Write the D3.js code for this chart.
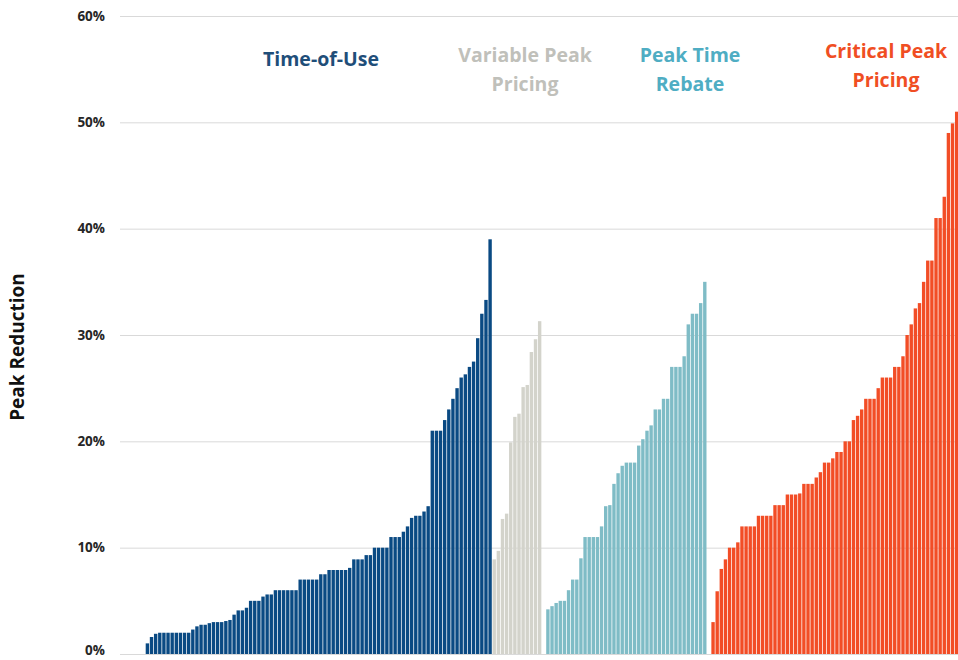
<!DOCTYPE html>
<html>
<head>
<meta charset="utf-8">
<script src="https://cdn.jsdelivr.net/npm/d3@7"></script>
<style>
  html, body { margin: 0; padding: 0; background: #fff; }
  svg { display: block; }
  text { font-family: "Open Sans", "Liberation Sans", sans-serif; }
</style>
</head>
<body>
<svg id="chart" width="958" height="660"></svg>
<script>
// ---- data (peak reduction, %) ----
const touValues = [1.0, 1.6, 1.9, 2.0, 2.0, 2.0, 2.0, 2.0, 2.0, 2.0, 2.0, 2.3, 2.6, 2.75, 2.75, 2.9, 3.0, 3.0, 3.0, 3.1, 3.2,
  3.7, 4.1, 4.1, 4.35, 5.0, 5.0, 5.0, 5.4, 5.6, 5.6, 6.0, 6.0, 6.0, 6.0, 6.0, 6.0,
  7.0, 7.0, 7.0, 7.0, 7.0, 7.5, 7.5, 7.9, 7.9, 7.9, 7.9, 7.9, 8.1, 8.9, 8.9, 8.9, 9.3, 9.3,
  10.0, 10.0, 10.0, 10.0, 11.0, 11.0, 11.0, 11.5, 12.0, 12.8, 13.0, 13.0, 13.4, 13.9,
  21.0, 21.0, 21.0, 22.0, 23.0, 24.0, 25.0, 26.0, 26.3, 27.0, 27.5, 29.7, 32.0, 33.3, 39.0];
const vppValues = [8.9, 9.7, 12.7, 13.2, 19.9, 22.3, 22.6, 25.1, 25.3, 28.4, 29.6, 31.3];
const ptrValues = [4.2, 4.5, 4.8, 5.0, 5.0, 6.0, 7.0, 7.0, 9.0, 11.0, 11.0, 11.0, 11.0, 12.0, 13.9, 14.0,
  16.0, 17.0, 17.7, 18.0, 18.0, 18.0, 19.6, 20.2, 21.0, 21.5, 23.0, 23.0, 24.0, 24.0,
  27.0, 27.0, 27.0, 28.0, 31.0, 32.0, 32.0, 33.0, 35.0];
const cppValues = [3.0, 5.9, 8.0, 8.9, 10.0, 10.0, 10.5, 12.0, 12.0, 12.0, 12.0, 13.0, 13.0, 13.0, 13.0,
  14.0, 14.0, 14.0, 15.0, 15.0, 15.0, 15.1, 16.0, 16.0, 16.0, 16.6, 17.1, 18.0, 18.0, 18.4,
  19.0, 19.0, 20.0, 20.0, 22.0, 22.4, 23.0, 24.0, 24.0, 24.0, 25.0, 26.0, 26.0, 26.0, 27.0, 27.0,
  28.0, 30.0, 31.0, 32.5, 33.0, 35.0, 37.0, 37.0, 41.0, 41.0, 43.0, 49.0, 49.9, 51.0];
const groupNames = ["Time-of-Use", "Variable Peak Pricing", "Peak Time Rebate", "Critical Peak Pricing"];
const groupLabelLines = [["Time-of-Use"], ["Variable Peak", "Pricing"], ["Peak Time", "Rebate"], ["Critical Peak", "Pricing"]];
const groupGapsBefore = [0, 0, 1, 1];   // empty slots before each group
const yTicks = [0, 10, 20, 30, 40, 50, 60];
const yTitle = "Peak Reduction";

// ---- style ----
const barColors = ["#0a4a83", "#d3d3cb", "#7fbcc6", "#f24d26"];
const labelColors = ["#1f4e79", "#c0c0ba", "#4fadc3", "#f04e23"];

// ---- build slots ----
const groups = [touValues, vppValues, ptrValues, cppValues];
const slots = [];
groups.forEach((vals, g) => {
  for (let k = 0; k < groupGapsBefore[g]; k++) slots.push({ key: "gap" + g + "_" + k, value: null, group: -1 });
  vals.forEach((v, i) => slots.push({ key: "g" + g + "_" + i, value: v, group: g }));
});

const svg = d3.select("#chart");

const y = d3.scaleLinear().domain([0, 60]).range([654, 16]);
const x = d3.scaleBand()
  .domain(slots.map(d => d.key))
  .range([144.96, 959.1])
  .paddingInner(0.18)
  .paddingOuter(0.18);

// gridlines
const yAxis = d3.axisLeft(y).tickValues(yTicks).tickSize(-(958 - 120)).tickFormat(d => d + "%").tickPadding(15);
const ga = svg.append("g").attr("transform", "translate(120,0)").call(yAxis);
ga.select(".domain").remove();
ga.selectAll(".tick line").attr("stroke", "#d9d9d9").attr("stroke-width", 1);
ga.selectAll(".tick text")
  .attr("fill", "#262626")
  .attr("font-size", 13.5)
  .attr("font-weight", "bold")
  .attr("font-family", "'Open Sans', sans-serif")
  .attr("dy", d => d === 0 ? "0.05em" : "0.32em");

// bars
svg.append("g").selectAll("rect")
  .data(slots.filter(d => d.value !== null))
  .join("rect")
  .attr("x", d => x(d.key))
  .attr("width", x.bandwidth())
  .attr("y", d => y(d.value))
  .attr("height", d => y(0) - y(d.value))
  .attr("fill", d => barColors[d.group]);

// y title
svg.append("text")
  .attr("transform", "translate(24,347) rotate(-90)")
  .attr("text-anchor", "middle")
  .attr("font-size", 19)
  .attr("font-weight", "bold")
  .attr("fill", "#111")
  .text(yTitle);

// group labels
const labelPos = [
  { cx: 321, y0: 66 },
  { cx: 525, y0: 62 },
  { cx: 690, y0: 62 },
  { cx: 886, y0: 58 }
];
groupLabelLines.forEach((lines, g) => {
  const t = svg.append("text")
    .attr("text-anchor", "middle")
    .attr("font-size", 19.5)
    .attr("font-weight", "bold")
    .attr("fill", labelColors[g])
    .attr("aria-label", groupNames[g]);
  lines.forEach((ln, j) => {
    t.append("tspan").attr("x", labelPos[g].cx).attr("y", labelPos[g].y0 + j * 29).text(ln);
  });
});
</script>
</body>
</html>
